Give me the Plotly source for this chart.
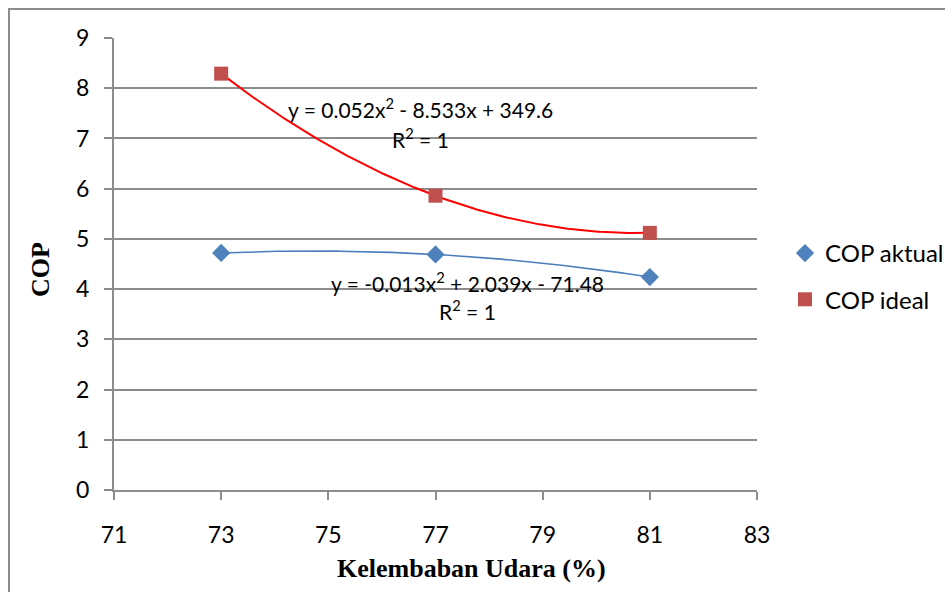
import numpy as np
import plotly.graph_objects as go

# Relative humidity (%) and measured coefficients of performance
kelembaban = [73, 77, 81]
cop_aktual = [4.72, 4.69, 4.24]
cop_ideal = [8.29, 5.86, 5.12]

x_ticks = [71, 73, 75, 77, 79, 81, 83]
y_ticks = [0, 1, 2, 3, 4, 5, 6, 7, 8, 9]

eq_ideal = "y = 0.052x<sup>2</sup> - 8.533x + 349.6"
eq_aktual = "y = -0.013x<sup>2</sup> + 2.039x - 71.48"
r2_text = "R<sup>2</sup> = 1"

BLUE = "#4F81BD"
RED = "#C0504D"
GRID = "#8C8C8C"
TICK_FONT = dict(family="Lato", size=23, color="#000000")
TITLE_FONT = dict(family="Liberation Serif", size=26, color="#000000")

# second-order polynomial trendlines through each series
xs = np.linspace(min(kelembaban), max(kelembaban), 200)
fit_aktual = np.polyval(np.polyfit(kelembaban, cop_aktual, 2), xs)
fit_ideal = np.polyval(np.polyfit(kelembaban, cop_ideal, 2), xs)

fig = go.Figure()

fig.add_trace(go.Scatter(x=xs, y=fit_aktual, mode="lines",
                         line=dict(color="#4A7EBB", width=1.6),
                         showlegend=False, hoverinfo="skip"))
fig.add_trace(go.Scatter(x=xs, y=fit_ideal, mode="lines",
                         line=dict(color="#FF0000", width=2),
                         showlegend=False, hoverinfo="skip"))

fig.add_trace(go.Scatter(x=kelembaban, y=cop_aktual, mode="markers",
                         name="COP aktual", legendgroup="a",
                         marker=dict(symbol="diamond", size=14, color=BLUE)))
fig.add_trace(go.Scatter(x=kelembaban, y=cop_ideal, mode="markers",
                         name="COP ideal", legendgroup="b",
                         marker=dict(symbol="square", size=14, color=RED)))

L, R, T, B = 114, 188, 38, 102
W, H = 945, 592
pw, ph = W - L - R, H - T - B


def px_x(p):
    return (p - L) / pw


def px_y(p):
    return (H - B - p) / ph


annotations = [
    dict(x=px_x(420), y=px_y(108), text=eq_ideal),
    dict(x=px_x(420), y=px_y(138), text=r2_text),
    dict(x=px_x(467), y=px_y(282), text=eq_aktual),
    dict(x=px_x(467), y=px_y(310), text=r2_text),
]
annotations = [dict(a, xref="paper", yref="paper", showarrow=False,
                    xanchor="center", yanchor="middle",
                    font=dict(family="Lato", size=21, color="#000000"))
               for a in annotations]

annotations.append(dict(x=px_x(471), y=px_y(568), xref="paper", yref="paper",
                        text="<b>Kelembaban Udara (%)</b>", showarrow=False,
                        xanchor="center", yanchor="middle", font=TITLE_FONT))
annotations.append(dict(x=px_x(40), y=px_y(270), xref="paper", yref="paper",
                        text="<b>COP</b>", showarrow=False, textangle=-90,
                        xanchor="center", yanchor="middle", font=TITLE_FONT))

fig.update_layout(
    width=W, height=H,
    margin=dict(l=L, r=R, t=T, b=B, autoexpand=False),
    paper_bgcolor="white", plot_bgcolor="white",
    annotations=annotations,
    legend=dict(x=px_x(785), y=px_y(231), xanchor="left", yanchor="top",
                font=dict(family="Lato", size=24, color="#000000"),
                tracegroupgap=12, itemwidth=30, bgcolor="rgba(0,0,0,0)"),
    shapes=[dict(type="rect", xref="paper", yref="paper",
                 x0=px_x(9), x1=px_x(960), y0=px_y(610), y1=px_y(9),
                 line=dict(color="#8C8C8C", width=2), layer="below")],
)

fig.update_xaxes(range=[71, 83], tickvals=x_ticks, showgrid=False,
                 showline=True, linecolor=GRID, linewidth=2,
                 ticks="outside", ticklen=8, tickwidth=2, tickcolor=GRID,
                 ticklabelstandoff=15, tickfont=TICK_FONT, zeroline=False)
fig.update_yaxes(range=[0, 9], tickvals=y_ticks, showgrid=True,
                 gridcolor=GRID, gridwidth=2,
                 showline=True, linecolor=GRID, linewidth=2,
                 ticks="outside", ticklen=8, tickwidth=2, tickcolor=GRID,
                 ticklabelstandoff=10, tickfont=TICK_FONT, zeroline=False)

fig.write_html("out.html")
